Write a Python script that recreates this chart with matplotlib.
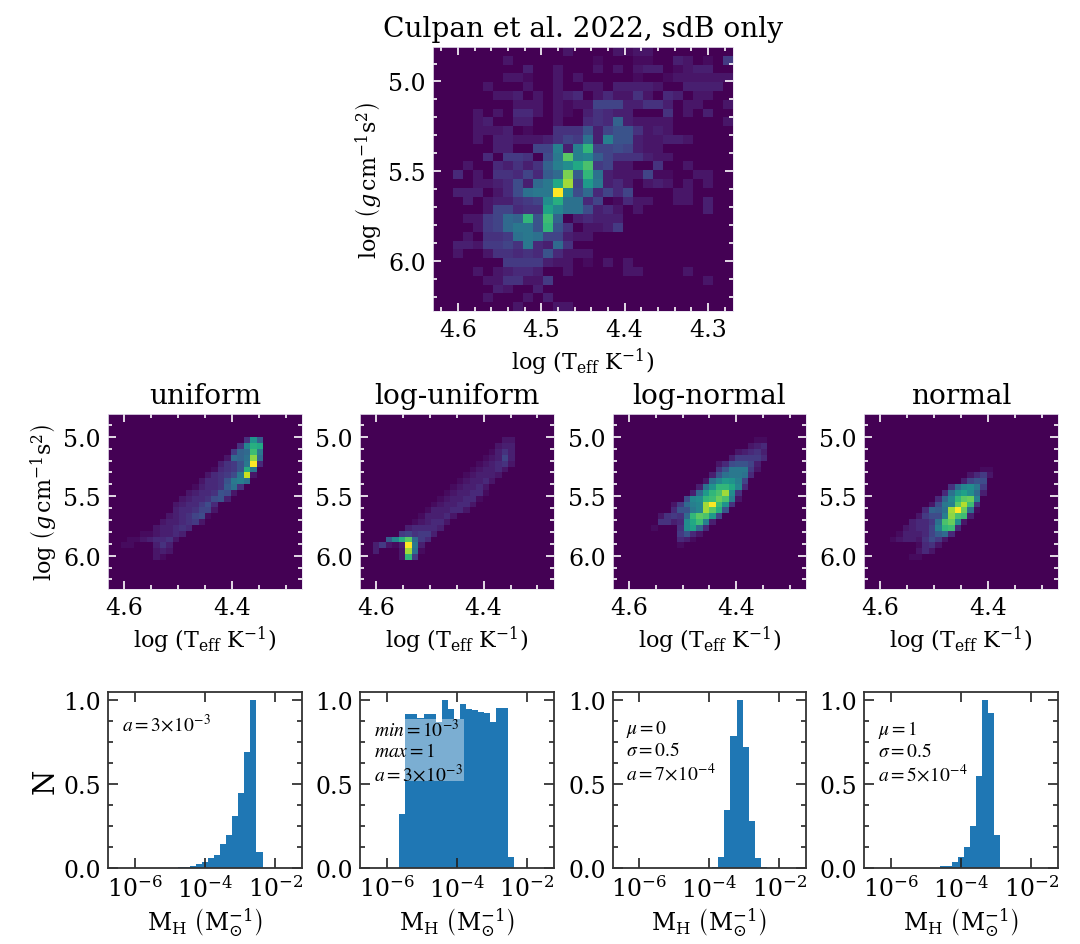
import numpy as np
import matplotlib
matplotlib.use('Agg')
import matplotlib.pyplot as plt
from matplotlib.patches import Rectangle
from matplotlib.ticker import MultipleLocator, NullLocator

plt.rcParams['font.family'] = 'DejaVu Serif'
plt.rcParams['mathtext.fontset'] = 'dejavuserif'

# 2d histograms, one string per log g row, one base-36 character per log Teff bin (z = peak)
culpan_rows = [
    "00000 00000 00020 00021 22000 00000",
    "00000 00200 00000 01000 11003 20106",
    "00000 00003 00200 02020 23301 23300",
    "00000 00221 00202 00000 10012 22222",
    "00000 20002 00200 22033 33200 33330",
    "00000 02230 20234 02422 52043 02200",
    "00000 00022 20212 27773 35530 22002",
    "00002 02044 20210 35433 00050 20300",
    "00002 30033 00200 454b3 22220 00002",
    "00002 22301 00555 93799 52320 00000",
    "00002 03322 23576 d3f99 32233 20000",
    "00000 03300 77f3f n7787 32200 00000",
    "00000 40665 08eqf ga755 53220 00000",
    "00020 04353 5bfhl p6722 00500 20000",
    "00402 05547 4acsa nd322 27110 02200",
    "00002 23483 celu7 je342 02320 20200",
    "00333 0248d eezg8 c4747 00002 20000",
    "00030 23356 7hmdd 47014 22002 20300",
    "00000 27745 5kgdd 83420 20000 00300",
    "00022 67cbn 9ob03 43330 00000 00000",
    "00002 67cee 9n950 22360 00000 00000",
    "00020 556de d7732 20000 00000 00000",
    "00332 6675e 43c50 00000 00000 00000",
    "00200 25545 49422 20000 00000 00000",
    "00000 00666 63220 10202 00000 00000",
    "00002 02344 30020 00002 20000 20000",
    "00000 22552 26000 00000 00000 00200",
    "00000 03200 30000 00000 00000 00000",
    "00000 20002 03000 00000 00000 00000",
    "00000 00020 00220 00000 00000 00000",
]
uniform_rows = [
    "00000 00000 00000 00000 00000 00000",
    "00000 00000 00000 00000 00000 00000",
    "00000 00000 00000 00000 00000 00000",
    "00000 00000 00000 00000 00000 00000",
    "00000 00000 00000 00000 05ia0 00000",
    "00000 00000 00000 00000 5gml0 00000",
    "00000 00000 00000 00006 bcoe0 00000",
    "00000 00000 00000 0002c bdtc0 00000",
    "00000 00000 00000 00356 9ez40 00000",
    "00000 00000 00000 01456 9me00 00000",
    "00000 00000 00000 24568 ew200 00000",
    "00000 00000 00002 4459e fd000 00000",
    "00000 00000 00013 445ad 50000 00000",
    "00000 00000 00234 45982 00000 00000",
    "00000 00000 02344 58930 00000 00000",
    "00000 00000 23446 84000 00000 00000",
    "00000 00000 34457 72000 00000 00000",
    "00000 00002 34578 10000 00000 00000",
    "00000 00023 34562 00000 00000 00000",
    "00000 00233 45400 00000 00000 00000",
    "00000 11233 43000 00000 00000 00000",
    "00011 23445 20000 00000 00000 00000",
    "00110 00353 00000 00000 00000 00000",
    "00000 00232 00000 00000 00000 00000",
    "00000 00210 00000 00000 00000 00000",
    "00000 00000 00000 00000 00000 00000",
    "00000 00000 00000 00000 00000 00000",
    "00000 00000 00000 00000 00000 00000",
    "00000 00000 00000 00000 00000 00000",
    "00000 00000 00000 00000 00000 00000",
]
loguniform_rows = [
    "00000 00000 00000 00000 00000 00000",
    "00000 00000 00000 00000 00000 00000",
    "00000 00000 00000 00000 00000 00000",
    "00000 00000 00000 00000 00000 00000",
    "00000 00000 00000 00000 00220 00000",
    "00000 00000 00000 00000 02330 00000",
    "00000 00000 00000 00000 13530 00000",
    "00000 00000 00000 00001 23730 00000",
    "00000 00000 00000 00012 34520 00000",
    "00000 00000 00000 00123 34200 00000",
    "00000 00000 00000 01233 32000 00000",
    "00000 00000 00000 12334 20000 00000",
    "00000 00000 00001 23342 00000 00000",
    "00000 00000 00012 33441 00000 00000",
    "00000 00000 00123 34410 00000 00000",
    "00000 00000 01233 44200 00000 00000",
    "00000 00000 13334 42000 00000 00000",
    "00000 00001 33342 00000 00000 00000",
    "00000 00012 34420 00000 00000 00000",
    "00000 00344 44300 00000 00000 00000",
    "00000 06756 63000 00000 00000 00000",
    "0000a gmqc6 40000 00000 00000 00000",
    "00362 13ze3 00000 00000 00000 00000",
    "00300 02ud1 00000 00000 00000 00000",
    "00000 02n60 00000 00000 00000 00000",
    "00000 00000 00000 00000 00000 00000",
    "00000 00000 00000 00000 00000 00000",
    "00000 00000 00000 00000 00000 00000",
    "00000 00000 00000 00000 00000 00000",
    "00000 00000 00000 00000 00000 00000",
]
lognormal_rows = [
    "00000 00000 00000 00000 00000 00000",
    "00000 00000 00000 00000 00000 00000",
    "00000 00000 00000 00000 00000 00000",
    "00000 00000 00000 00000 00000 00000",
    "00000 00000 00000 00000 00110 00000",
    "00000 00000 00000 00000 02340 00000",
    "00000 00000 00000 00002 34530 00000",
    "00000 00000 00000 00036 66640 00000",
    "00000 00000 00000 02489 97300 00000",
    "00000 00000 00000 059ee e6200 00000",
    "00000 00000 00000 39dee d4000 00000",
    "00000 00000 00002 dgjif 70000 00000",
    "00000 00000 0003d innlg 40000 00000",
    "00000 00000 003cj npuh5 00000 00000",
    "00000 00000 08ghn orpf2 00000 00000",
    "00000 00002 6cfgu zoi50 00000 00000",
    "00000 00004 99egu qm900 00000 00000",
    "00000 00256 5cnqp j7000 00000 00000",
    "00000 00553 4hlof 30000 00000 00000",
    "00000 01000 5hkc4 00000 00000 00000",
    "00000 00000 69420 00000 00000 00000",
    "00000 00000 43100 00000 00000 00000",
    "00000 00000 10000 00000 00000 00000",
    "00000 00000 00000 00000 00000 00000",
    "00000 00000 00000 00000 00000 00000",
    "00000 00000 00000 00000 00000 00000",
    "00000 00000 00000 00000 00000 00000",
    "00000 00000 00000 00000 00000 00000",
    "00000 00000 00000 00000 00000 00000",
    "00000 00000 00000 00000 00000 00000",
]
normal_rows = [
    "00000 00000 00000 00000 00000 00000",
    "00000 00000 00000 00000 00000 00000",
    "00000 00000 00000 00000 00000 00000",
    "00000 00000 00000 00000 00000 00000",
    "00000 00000 00000 00000 00000 00000",
    "00000 00000 00000 00000 00000 00000",
    "00000 00000 00000 00000 00000 00000",
    "00000 00000 00000 00000 00000 00000",
    "00000 00000 00000 00000 00000 00000",
    "00000 00000 00000 00011 00000 00000",
    "00000 00000 00000 02462 00000 00000",
    "00000 00000 00000 37980 00000 00000",
    "00000 00000 0005c ghe60 00000 00000",
    "00000 00000 004di khc30 00000 00000",
    "00000 00000 04bgn qrf00 00000 00000",
    "00000 00000 28efq vo500 00000 00000",
    "00000 00004 baduz rd100 00000 00000",
    "00000 00026 88ftp o3000 00000 00000",
    "00000 00344 6dprh 20000 00000 00000",
    "00000 02344 7fno4 00000 00000 00000",
    "00000 13334 7ac40 00000 00000 00000",
    "00001 23325 86200 00000 00000 00000",
    "00000 00014 52000 00000 00000 00000",
    "00000 00024 20000 00000 00000 00000",
    "00000 00110 00000 00000 00000 00000",
    "00000 00000 00000 00000 00000 00000",
    "00000 00000 00000 00000 00000 00000",
    "00000 00000 00000 00000 00000 00000",
    "00000 00000 00000 00000 00000 00000",
    "00000 00000 00000 00000 00000 00000",
]

# hydrogen mass histograms, same 19 log bins in every panel
uniform_mh = [0, 0, 0, 0, 0.004, 0.007, 0.01, 0.012, 0.025, 0.035, 0.06, 0.08, 0.145, 0.2, 0.31, 0.448, 0.695, 1.0, 0.095]
loguniform_mh = [0.325, 0.917, 0.92, 0.895, 0.92, 0.92, 0.873, 1.0, 0.946, 0.89, 0.98, 0.948, 0.944, 0.93, 0.925, 0.87, 0.956, 0.952, 0.065]
lognormal_mh = [0, 0, 0, 0, 0, 0, 0, 0, 0, 0, 0.005, 0.07, 0.35, 0.79, 1.0, 0.72, 0.28, 0.06, 0.005]
normal_mh = [0, 0, 0, 0, 0, 0.003, 0.012, 0.015, 0.035, 0.065, 0.125, 0.25, 0.55, 1.0, 0.925, 0.2, 0, 0, 0]

titles = ['uniform', 'log-uniform', 'log-normal', 'normal']
notes = [r'$a=3\!\times\!10^{-3}$',
         '$min=10^{-3}$\n$max=1$\n' + r'$a=3\!\times\!10^{-3}$',
         '$\\mu=0$\n$\\sigma=0.5$\n' + r'$a=7\!\times\!10^{-4}$',
         '$\\mu=1$\n$\\sigma=0.5$\n' + r'$a=5\!\times\!10^{-4}$']

teff_label = r'$\log\,\left(\mathrm{T_{eff}}\ \mathrm{K}^{-1}\right)$'
logg_label = r'$\log\,\left(g\,\mathrm{cm}^{-1}\mathrm{s}^{2}\right)$'
mh_label = r'$\mathrm{M_H}\ \left(\mathrm{M}_{\odot}^{-1}\right)$'

W, H = 1080, 945
TEFF_LIM = (4.63, 4.27)
LOGG_LIM = (6.28, 4.808)
TEFF_BINS = np.linspace(4.63, 4.27, 31)
LOGG_BINS = np.linspace(4.808, 6.28, 31)
MH_BINS = np.logspace(-5.637, -2.363, 20)

TICK_FS = 17
LABEL_FS = 16
TITLE_FS = 20.2


def grid(rows):
    return np.array([[int(c, 36) for c in r.replace(' ', '')] for r in rows], dtype=float)


def add_axes(fig, x0, x1, y0, y1):
    # pixel box measured from the top left corner
    return fig.add_axes([x0 / W, 1 - y1 / H, (x1 - x0) / W, (y1 - y0) / H])


def heatmap(ax, rows, xmajor, xminor):
    ax.pcolormesh(TEFF_BINS, LOGG_BINS, grid(rows), cmap='viridis', vmin=0, vmax=35, rasterized=True)
    ax.set_xlim(TEFF_LIM)
    ax.set_ylim(LOGG_LIM)
    ax.xaxis.set_major_locator(MultipleLocator(xmajor))
    ax.xaxis.set_minor_locator(MultipleLocator(xminor))
    ax.yaxis.set_major_locator(MultipleLocator(0.5))
    ax.yaxis.set_minor_locator(MultipleLocator(0.1))
    ax.tick_params(which='both', direction='in', top=True, right=True, color='white', width=1.2)
    ax.tick_params(which='major', length=6, labelsize=TICK_FS, pad=5)
    ax.tick_params(which='minor', length=3)
    for s in ax.spines.values():
        s.set_color('#e6e0ee')
        s.set_linewidth(0.6)


fig = plt.figure(figsize=(W / 100, H / 100), dpi=100)

ax = add_axes(fig, 433, 733, 48, 312)
heatmap(ax, culpan_rows, 0.1, 0.02)
ax.set_title('Culpan et al. 2022, sdB only', fontsize=TITLE_FS, pad=8)
ax.set_xlabel(teff_label, fontsize=LABEL_FS, labelpad=3)
ax.set_ylabel(logg_label, fontsize=LABEL_FS, labelpad=3)

boxes = [(108, 302), (360, 553.5), (612.7, 806), (864, 1058)]
mid_grids = [uniform_rows, loguniform_rows, lognormal_rows, normal_rows]
mh_hists = [uniform_mh, loguniform_mh, lognormal_mh, normal_mh]
note_y = [0.885, 0.855, 0.855, 0.855]

for i, (x0, x1) in enumerate(boxes):
    ax = add_axes(fig, x0, x1, 415, 590)
    heatmap(ax, mid_grids[i], 0.2, 0.05)
    ax.set_title(titles[i], fontsize=TITLE_FS, pad=8)
    ax.set_xlabel(teff_label, fontsize=LABEL_FS, labelpad=3)
    if i == 0:
        ax.set_ylabel(logg_label, fontsize=LABEL_FS, labelpad=3)

    ax = add_axes(fig, x0, x1, 693.3, 869.3)
    ax.bar(MH_BINS[:-1], mh_hists[i], width=np.diff(MH_BINS), align='edge', color='#1f77b4', linewidth=0)
    ax.set_xscale('log')
    ax.set_xlim(10 ** -6.76, 10 ** -1.24)
    ax.set_ylim(0, 1.048)
    ax.set_xticks([1e-6, 1e-4, 1e-2])
    ax.xaxis.set_minor_locator(NullLocator())
    ax.yaxis.set_major_locator(MultipleLocator(0.5))
    ax.yaxis.set_minor_locator(MultipleLocator(0.125))
    ax.tick_params(which='both', direction='in', top=True, right=True, color='#222222', width=1.2)
    ax.tick_params(which='major', length=7.5, labelsize=TICK_FS, pad=5)
    ax.tick_params(which='minor', length=3.8)
    for s in ax.spines.values():
        s.set_color('#333333')
        s.set_linewidth(1.3)
    ax.set_xlabel(mh_label, fontsize=LABEL_FS + 1, labelpad=2)
    if i == 0:
        ax.set_ylabel('N', fontsize=LABEL_FS + 5, labelpad=3)
    if i == 1:
        ax.add_patch(Rectangle((0.03, 0.498), 0.506, 0.35, transform=ax.transAxes,
                               facecolor='white', alpha=0.41, edgecolor='none'))
    ax.text(0.07, note_y[i], notes[i], transform=ax.transAxes, fontsize=14, va='top',
            linespacing=1.15, math_fontfamily='stix')

fig.savefig('out.png', dpi=100)
